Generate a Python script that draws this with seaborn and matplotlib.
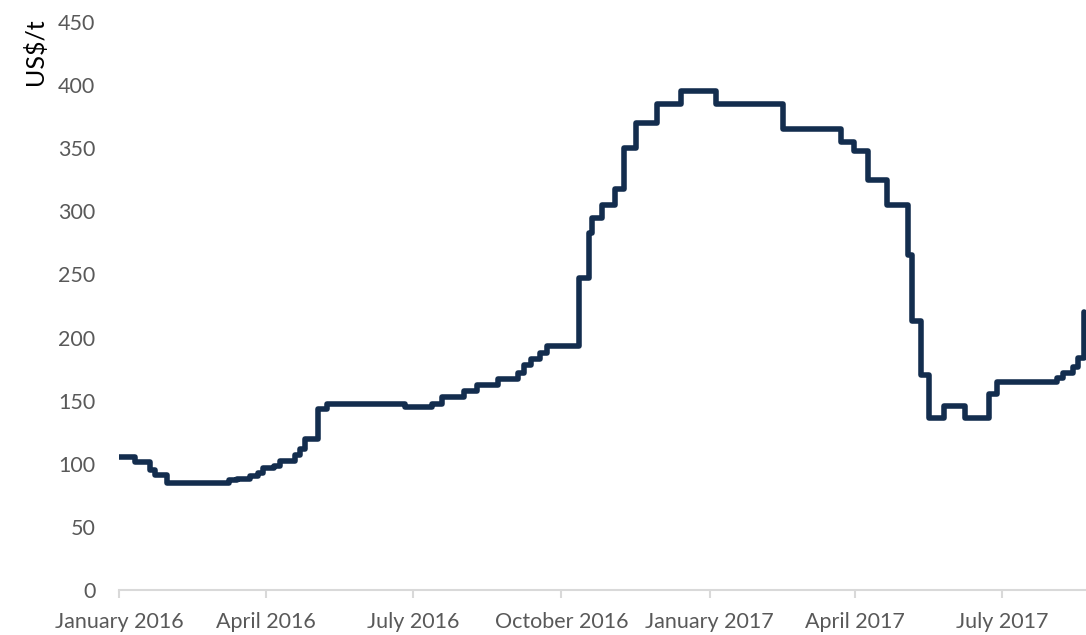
import numpy as np
import pandas as pd
import seaborn as sns
import matplotlib.pyplot as plt

# price change points (step series), US$/t
dates = ['2016-01-01', '2016-01-11', '2016-01-20', '2016-01-23', '2016-01-31',
         '2016-03-09', '2016-03-14', '2016-03-22', '2016-03-27', '2016-03-30',
         '2016-04-06', '2016-04-10', '2016-04-19', '2016-04-22', '2016-04-25',
         '2016-05-03', '2016-05-09', '2016-06-26', '2016-07-13', '2016-07-19',
         '2016-08-02', '2016-08-10', '2016-08-23', '2016-09-04', '2016-09-08',
         '2016-09-12', '2016-09-18', '2016-09-22', '2016-10-12', '2016-10-18',
         '2016-10-20', '2016-10-26', '2016-11-03', '2016-11-09', '2016-11-16',
         '2016-11-29', '2016-12-14', '2017-01-05', '2017-02-15', '2017-03-23',
         '2017-03-31', '2017-04-09', '2017-04-21', '2017-05-04', '2017-05-06',
         '2017-05-12', '2017-05-17', '2017-05-26', '2017-06-08', '2017-06-23',
         '2017-06-28', '2017-08-04', '2017-08-08', '2017-08-14', '2017-08-17',
         '2017-08-21']
prices = [105, 101, 95, 91, 85,
          87, 88, 90, 93, 96.5,
          98, 102.5, 107, 112, 120,
          143, 147.5, 145, 147.5, 153,
          158, 162, 167, 172, 178,
          183, 188, 193, 247, 283,
          295, 305, 318, 350, 370,
          385, 395, 385, 365, 355,
          348, 325, 305, 265, 213,
          170, 136, 145.5, 136, 155,
          165, 168, 172, 177, 184,
          220]
tick_dates = ['2016-01-01', '2016-04-01', '2016-07-01', '2016-10-01',
              '2017-01-01', '2017-04-01', '2017-07-01']
tick_labels = ['January 2016', 'April 2016', 'July 2016', 'October 2016',
               'January 2017', 'April 2017', 'July 2017']

df = pd.DataFrame({'date': pd.to_datetime(dates), 'price': prices})

sns.set_style('white')
plt.rcParams['font.family'] = ['Lato', 'DejaVu Sans']

fig = plt.figure(figsize=(10.86, 6.35), dpi=100)
ax = fig.add_axes([0.1096, 0.0709, 0.8904, 0.8945])

sns.lineplot(data=df, x='date', y='price', ax=ax, color='#132D4E',
             linewidth=4, drawstyle='steps-post', estimator=None,
             solid_capstyle='round', solid_joinstyle='round')

ax.set_xlim(pd.Timestamp('2016-01-01'), pd.Timestamp('2017-08-22'))
ax.set_ylim(0, 450)
ax.set_yticks(np.arange(0, 451, 50))
ax.set_xticks(pd.to_datetime(tick_dates))
ax.set_xticklabels(tick_labels)
ax.set_xlabel('')
ax.set_ylabel('')

for s in ['top', 'right', 'left']:
    ax.spines[s].set_visible(False)
ax.spines['bottom'].set_color('#D9D9D9')
ax.spines['bottom'].set_linewidth(1.5)

ax.tick_params(axis='x', colors='#595959', labelsize=15.5, length=6,
               width=1.5, color='#D9D9D9', pad=10, bottom=True)
ax.tick_params(axis='y', colors='#595959', labelsize=15.5, length=0, pad=17)

fig.text(35 / 1086, 1 - 18 / 635, 'US$/t', rotation=90, ha='center',
         va='top', fontsize=18, color='black')

fig.savefig('out.png', dpi=100)
